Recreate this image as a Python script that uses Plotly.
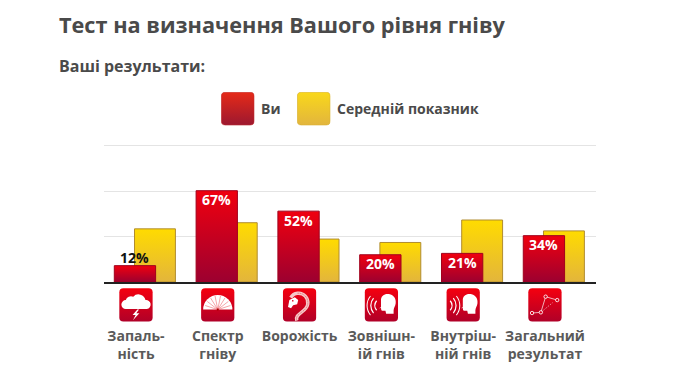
import base64
import plotly.graph_objects as go

TITLE = "Тест на визначення Вашого рівня гніву"
SUBTITLE = "Ваші результати:"
SERIES_YOU = "Ви"
SERIES_AVG = "Середній показник"
categories = ["Запаль-<br>ність", "Спектр<br>гніву", "Ворожість<br>&nbsp;", "Зовнішн-<br>ій гнів", "Внутріш-<br>ній гнів", "Загальний<br>результат"]
you = [12, 67, 52, 20, 21, 34]
average = [39, 43.5, 31.5, 29, 45.5, 37.5]

W, H = 680, 383
L, R, T, B = 104, 596, 143.0, 281.7
def px(x): return (x - L) / (R - L)
def py(y): return (B - y) / (B - T)

def uri(svg):
    return "data:image/svg+xml;base64," + base64.b64encode(svg.encode()).decode()

def square(top, bottom, inner="", stroke="none"):
    return uri(f'''<svg xmlns="http://www.w3.org/2000/svg" width="100" height="100" viewBox="0 0 100 100">
<defs><linearGradient id="a" x1="0" y1="0" x2="0" y2="1"><stop offset="0" stop-color="{top}"/><stop offset="1" stop-color="{bottom}"/></linearGradient></defs>
<rect x="1" y="1" width="98" height="98" rx="12" fill="url(#a)" stroke="{stroke}" stroke-width="2"/>{inner}</svg>''')

cloud = '''<path d="M20 62a13 13 0 0 1 0-26a16 16 0 0 1 22-10a21 21 0 0 1 36 10a13 13 0 0 1 4 26z" fill="#fff"/>
<path d="M54 64l-14 16h9l-8 15l19-20h-9l8-11z" fill="#fff"/>'''
fan_lines = "".join(f'<line x1="50" y1="64" x2="{x}" y2="{y}" stroke="#e8303c" stroke-width="1.3"/>' for x, y in
    [(13,52),(19,40),(29,30),(42,24),(58,24),(71,30),(81,40),(87,52)])
fan = f'<path d="M7 64a43 43 0 0 1 86 0z" fill="#fff"/>{fan_lines}<circle cx="50" cy="64" r="3" fill="#a00"/>'
snake = '''<path d="M42 96c-8-20 28-24 32-48c3-18-12-34-30-32c-10 1-16 6-20 13" fill="none" stroke="#f6c8c8" stroke-width="10"/>
<path d="M42 96c-8-20 28-24 32-48c3-18-12-34-30-32" fill="none" stroke="#d8303c" stroke-width="2" stroke-dasharray="3 3"/>
<path d="M16 56l4-20l16-8l10 8l-3 12l-12 3l-6 9z" fill="#fff"/><circle cx="30" cy="38" r="2.5" fill="#d8001c"/>'''
head = '<path d="M43 60l6-3v-24c2-12 15-17 26-14c12 3 19 14 17 27c-1 8-6 13-6 20v10h-22l-2-9h-9c-4 0-4-6-4-8z" fill="#fff"/>'
waves_out = '''<g fill="none" stroke="#fff" stroke-width="4"><path d="M36 38a22 22 0 0 0 0 28"/><path d="M27 30a34 34 0 0 0 0 44" stroke-width="3.5"/><path d="M18 24a44 44 0 0 0 0 56" stroke-width="3"/></g>'''
waves_in = '''<g fill="none" stroke="#fff" stroke-width="4"><path d="M12 38a22 22 0 0 1 0 28" /><path d="M21 30a34 34 0 0 1 0 44" stroke-width="3.5"/><path d="M30 24a44 44 0 0 1 0 56" stroke-width="3"/></g>'''
graph_nodes = [(12,74),(38,72),(52,26),(86,36)]
graph = '<polyline points="12,74 38,72 52,26 86,36" fill="none" stroke="#fff" stroke-width="2"/><path d="M38 72L72 44" stroke="#fff" stroke-width="2" stroke-dasharray="3 4"/>' + "".join(
    f'<circle cx="{x}" cy="{y}" r="5" fill="#d8001c" stroke="#fff" stroke-width="2.5"/>' for x, y in graph_nodes)
icons = [cloud, fan, snake, head + waves_out, head + waves_in, graph]

fig = go.Figure()
fig.add_bar(name=SERIES_AVG, x=categories, y=average, width=0.5, offset=-0.018,
            marker=dict(color="#f4c81c", line=dict(color="#b08c30", width=1)), showlegend=False, hoverinfo="skip")
fig.add_bar(name=SERIES_YOU, x=categories, y=you, width=0.505, offset=-0.265,
            marker=dict(color="#d00020", line=dict(color="#a0001c", width=1)),
            showlegend=False, hoverinfo="skip")

images = []
for c, inner in zip(categories, icons):
    images.append(dict(source=square("#f5000f", "#b00028", inner), xref="x", yref="paper", x=c,
                       y=py(287.5), sizex=34 / 81.8, sizey=34 / (B - T),
                       xanchor="center", yanchor="top", sizing="stretch", layer="above"))
images.append(dict(source=square("#e62a18", "#9c1830", stroke="#c03030"), xref="paper", yref="paper", x=px(221), y=py(92),
                   sizex=33.5 / (R - L), sizey=33.5 / (B - T), xanchor="left", yanchor="top", sizing="stretch"))
images.append(dict(source=square("#f9d81a", "#e2b53e", stroke="#d8b030"), xref="paper", yref="paper", x=px(297), y=py(92),
                   sizex=33.5 / (R - L), sizey=33.5 / (B - T), xanchor="left", yanchor="top", sizing="stretch"))

def note(text, x, y, size, color="#4a4a4a"):
    return dict(text=f"<b>{text}</b>", x=px(x), y=py(y), xref="paper", yref="paper", xanchor="left", yanchor="middle",
                showarrow=False, font=dict(family="Open Sans", size=size, color=color))

value_labels = [
    dict(text=f"<b>{v}%</b>", x=c, y=v, xref="x", yref="y", xshift=-1, yanchor="middle",
         yshift=-9 if v > 15 else 8, showarrow=False,
         font=dict(family="Open Sans", size=14, color="#ffffff" if v > 15 else "#111111"))
    for c, v in zip(categories, you)
]

fig.update_layout(
    width=W, height=H, autosize=False, barmode="overlay", showlegend=False,
    margin=dict(l=L, r=W - R, t=T, b=H - B, pad=0),
    paper_bgcolor="#ffffff", plot_bgcolor="#ffffff",
    images=images,
    annotations=[note(TITLE, 57, 25, 21.7), note(SUBTITLE, 57, 66, 16), note(SERIES_YOU, 259, 109, 14), note(SERIES_AVG, 335, 109, 14)] + value_labels,
    xaxis=dict(type="category", categoryarray=categories, range=[-0.391, 5.624], showgrid=False, ticks="",
               showline=True, linecolor="#222222", linewidth=2, ticklabelstandoff=40,
               tickfont=dict(family="Open Sans", size=14, weight=700, color="#5a5a5a")),
    yaxis=dict(range=[0, 102], tickvals=[33.33, 66.67, 100], showticklabels=False, gridcolor="#e4e4e4", gridwidth=1,
               zeroline=False, showline=False, ticks=""),
)

post = """
document.body.style.margin='0';
var gd=document.getElementById('{plot_id}');
var svg=gd.querySelector('svg.main-svg');
var NS='http://www.w3.org/2000/svg';
var defs=document.createElementNS(NS,'defs');
function grad(id,a,b){var g=document.createElementNS(NS,'linearGradient');g.id=id;g.setAttribute('x1','0');g.setAttribute('y1','0');g.setAttribute('x2','0');g.setAttribute('y2','1');
[[0,a],[1,b]].forEach(function(s){var t=document.createElementNS(NS,'stop');t.setAttribute('offset',s[0]);t.setAttribute('stop-color',s[1]);g.appendChild(t);});defs.appendChild(g);}
grad('gy','#ffdb00','#e3b53c');grad('gr','#f0000f','#9c0030');svg.appendChild(defs);
var tr=gd.querySelectorAll('.barlayer .trace');
tr[0].querySelectorAll('.point path').forEach(function(p){p.style.fill='url(#gy)';});
tr[1].querySelectorAll('.point path').forEach(function(p){p.style.fill='url(#gr)';});
"""
fig.write_html("out.html", post_script=post, config=dict(displayModeBar=False))
